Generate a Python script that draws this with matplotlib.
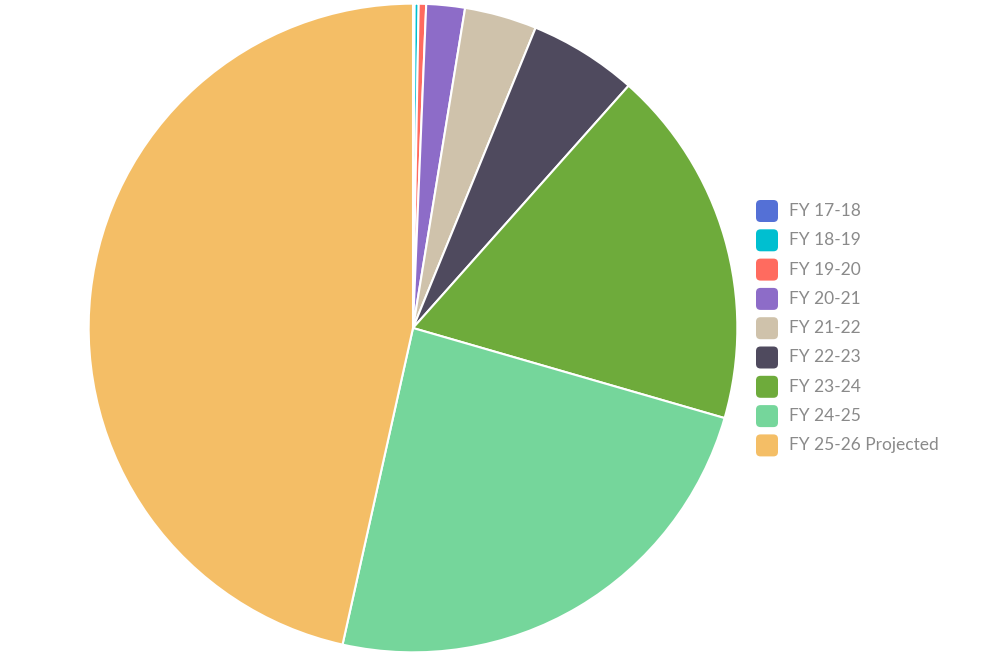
import matplotlib.pyplot as plt
from matplotlib.patches import FancyBboxPatch

labels = ["FY 17-18", "FY 18-19", "FY 19-20", "FY 20-21", "FY 21-22",
          "FY 22-23", "FY 23-24", "FY 24-25", "FY 25-26 Projected"]
values = [0.08, 0.2, 0.37, 1.92, 3.6, 5.4, 17.9, 24.0, 46.5]
colors = ["#5470d6", "#00bfd0", "#ff6b5f", "#8d6cc8", "#cfc2ab",
          "#4f4a5e", "#6eab3b", "#75d69b", "#f4be66"]

W, H = 1007, 657
fig = plt.figure(figsize=(W / 100, H / 100), dpi=100)

# pie centre ~ (413, 328) px, radius ~325 px
cx, cy, r = 413, 328, 325
ax = fig.add_axes([(cx - r) / W, (H - cy - r) / H, 2 * r / W, 2 * r / H])
ax.pie(values, colors=colors, startangle=90, counterclock=False,
       wedgeprops=dict(edgecolor="white", linewidth=1.5))
ax.set_xlim(-1.002, 1.002)
ax.set_ylim(-1.002, 1.002)
ax.set_aspect("equal")
ax.axis("off")

# legend, drawn by hand
x0, y0, step, box = 756, 211, 29.3, 22
for i, (lab, col) in enumerate(zip(labels, colors)):
    yc = y0 + i * step
    p = FancyBboxPatch((x0 / W, (H - yc - box / 2) / H), box / W, box / H,
                       boxstyle="round,pad=0,rounding_size=0.0045",
                       transform=fig.transFigure, facecolor=col,
                       edgecolor="none", mutation_aspect=W / H)
    fig.patches.append(p)
    fig.text((x0 + 33) / W, (H - yc) / H, lab, fontsize=12.5, color="#8a8a8a",
             va="center", ha="left", family=["Lato", "DejaVu Sans"])

fig.savefig("out.png", dpi=100, facecolor="white")
